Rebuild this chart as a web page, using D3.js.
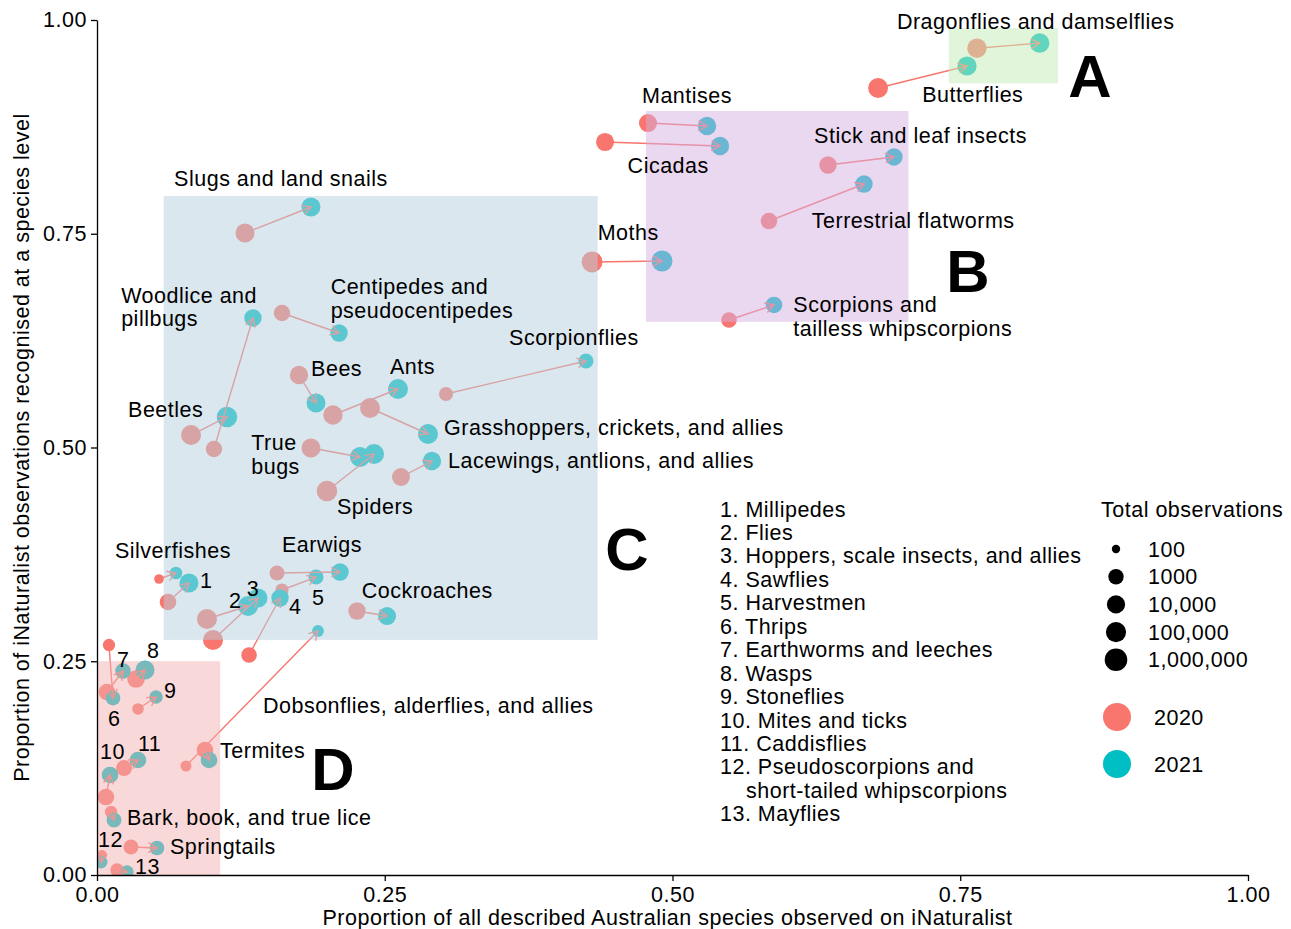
<!doctype html>
<html lang="en">
<head>
<meta charset="utf-8">
<title>iNaturalist coverage of Australian invertebrates</title>
<script src="https://d3js.org/d3.v7.min.js"></script>
<style>
  body { margin: 0; background: #fff; }
  svg text { font-family: "Liberation Sans", Arial, sans-serif; fill: #000; letter-spacing: 0.5px; }
  .axis path, .axis line { stroke: #000; stroke-width: 1.3px; }
</style>
</head>
<body>
<div id="chart"></div>
<script>
// groups, 2020 -> 2021 positions and total observations
var groups = ["Dragonflies and damselflies", "Butterflies", "Mantises", "Cicadas", "Stick and leaf insects",
  "Terrestrial flatworms", "Moths", "Scorpions and tailless whipscorpions", "Slugs and land snails",
  "Woodlice and pillbugs", "Beetles", "Centipedes and pseudocentipedes", "Bees", "Ants",
  "Grasshoppers, crickets, and allies", "Scorpionflies", "True bugs", "Spiders", "Lacewings, antlions, and allies",
  "Silverfishes", "Millipedes", "Flies", "Hoppers, scale insects, and allies", "Sawflies", "Harvestmen",
  "Earwigs", "Cockroaches", "Dobsonflies, alderflies, and allies", "Termites", "Thrips", "Earthworms and leeches",
  "Wasps", "Stoneflies", "Mites and ticks", "Caddisflies", "Bark, book, and true lice", "Springtails",
  "Pseudoscorpions and short-tailed whipscorpions", "Mayflies"];

var x2020 = [0.7645, 0.6786, 0.4787, 0.4414, 0.6351, 0.5838, 0.4301, 0.5491, 0.1286, 0.1016, 0.0817, 0.1607, 0.1755,
  0.2050, 0.2372, 0.3032, 0.1859, 0.1998, 0.2641, 0.0539, 0.0617, 0.0955, 0.1008, 0.1321, 0.1607, 0.1564, 0.2259,
  0.0773, 0.0938, 0.0104, 0.0087, 0.0339, 0.0356, 0.0078, 0.0235, 0.0122, 0.0295, 0.0043, 0.0174];
var y2020 = [0.967, 0.9205, 0.8795, 0.8573, 0.8304, 0.7649, 0.717, 0.6491, 0.7509, 0.4982, 0.5146, 0.6573, 0.5848,
  0.538, 0.5462, 0.5626, 0.4994, 0.4491, 0.4655, 0.3462, 0.3193, 0.2994, 0.2749, 0.2573, 0.3333, 0.3532, 0.3088,
  0.1275, 0.1462, 0.269, 0.214, 0.2292, 0.1942, 0.0912, 0.1251, 0.0737, 0.0327, 0.0234, 0.0058];
var x2021 = [0.819, 0.7559, 0.530, 0.5413, 0.6924, 0.6664, 0.4909, 0.5882, 0.1859, 0.1355, 0.1129, 0.2103, 0.1903,
  0.2615, 0.2876, 0.4248, 0.2285, 0.2407, 0.291, 0.0686, 0.0799, 0.1312, 0.1399, 0.159, 0.1903, 0.2111, 0.252,
  0.192, 0.0973, 0.0139, 0.0226, 0.0417, 0.0513, 0.0113, 0.0356, 0.0148, 0.0521, 0.0035, 0.026];
var y2021 = [0.973, 0.9462, 0.876, 0.8526, 0.8398, 0.8082, 0.7181, 0.6667, 0.7813, 0.6515, 0.5357, 0.6339, 0.552,
  0.5684, 0.5158, 0.6012, 0.4889, 0.4924, 0.4842, 0.3532, 0.3415, 0.3146, 0.324, 0.324, 0.3485, 0.3544, 0.3029,
  0.2854, 0.1345, 0.207, 0.2386, 0.2398, 0.2082, 0.117, 0.1345, 0.0643, 0.0316, 0.0152, 0.0035];
var n2020 = [40000, 70000, 9000, 9000, 5200, 2700, 200000, 1200, 25000, 2300, 80000, 2300, 12600, 40000, 80000, 630,
  25000, 140000, 8500, 150, 2700, 80000, 80000, 1200, 500, 880, 5200, 235, 2700, 370, 2700, 6000, 285, 2700, 1600,
  370, 880, 170, 520];
var n2021 = [45000, 30000, 12000, 12000, 5200, 5200, 215000, 2700, 25000, 5200, 140000, 5200, 25000, 80000, 80000, 880,
  80000, 80000, 12600, 400, 25000, 80000, 25000, 5200, 880, 6000, 8500, 300, 2700, 800, 1200, 25000, 520, 2700, 2700,
  880, 770, 450, 520];

// numbered groups in the list on the right
var numbered = ["Millipedes", "Flies", "Hoppers, scale insects, and allies", "Sawflies", "Harvestmen", "Thrips",
  "Earthworms and leeches", "Wasps", "Stoneflies", "Mites and ticks", "Caddisflies",
  "Pseudoscorpions and\nshort-tailed whipscorpions", "Mayflies"];

// text labels on the panel (data units)
var labelText = ["Dragonflies and damselflies", "Butterflies", "Mantises", "Cicadas", "Stick and leaf insects",
  "Terrestrial flatworms", "Moths", "Scorpions and\ntailless whipscorpions", "Slugs and land snails",
  "Woodlice and\npillbugs", "Centipedes and\npseudocentipedes", "Scorpionflies", "Bees", "Ants", "Beetles",
  "Grasshoppers, crickets, and allies", "True\nbugs", "Lacewings, antlions, and allies", "Spiders",
  "Silverfishes", "Earwigs", "1", "2", "3", "4", "5", "Cockroaches", "8", "7", "6", "9",
  "Dobsonflies, alderflies, and allies", "10", "11", "Termites", "Bark, book, and true lice", "12", "Springtails", "13"];
var labelX = [0.695, 0.717, 0.4735, 0.461, 0.623, 0.621, 0.435, 0.605, 0.067, 0.021, 0.203, 0.358, 0.186, 0.2546,
  0.027, 0.3015, 0.134, 0.305, 0.2085, 0.0156, 0.1607, 0.0895, 0.1147, 0.130, 0.1668, 0.1868, 0.230, 0.0434, 0.0174,
  0.0096, 0.0582, 0.1442, 0.0026, 0.0356, 0.1069, 0.0261, 0.0009, 0.0634, 0.033];
var labelY = [0.998, 0.913, 0.912, 0.830, 0.8655, 0.765, 0.751, 0.667, 0.815, 0.678, 0.688, 0.629, 0.593, 0.595,
  0.544, 0.524, 0.506, 0.485, 0.4316, 0.380, 0.386, 0.345, 0.3216, 0.3357, 0.3135, 0.325, 0.3333, 0.263, 0.2526,
  0.1836, 0.2164, 0.1988, 0.1439, 0.1544, 0.1462, 0.0678, 0.0421, 0.0339, 0.0105];

// highlighted regions A-D
var regionNames = ["A", "B", "C", "D"];
var regionX0 = [0.740, 0.477, 0.058, 0.0];
var regionX1 = [0.835, 0.705, 0.435, 0.107];
var regionY0 = [0.926, 0.647, 0.275, 0.0];
var regionY1 = [0.9906, 0.8936, 0.794, 0.25];
var regionLetterX = [0.8627, 0.7567, 0.4605, 0.205];
var regionLetterY = [0.9357, 0.7076, 0.3825, 0.1251];
var regionFill = ["#c3ebb7", "#d5afe1", "#b5cfdd", "#f1b1b1"];

var sizeBreaks = [100, 1000, 10000, 100000, 1000000];
var sizeLabels = ["100", "1000", "10,000", "100,000", "1,000,000"];
var years = ["2020", "2021"];
var yearColors = ["#F8766D", "#00BFC4"];

var width = 1291, height = 929;
var margin = {top: 20, right: 43, bottom: 54, left: 97};
var fontSize = "21.5px";

var svg = d3.select("#chart").append("svg")
  .attr("width", width)
  .attr("height", height);

var x = d3.scaleLinear().domain([0, 1]).range([margin.left, width - margin.right]);
var y = d3.scaleLinear().domain([0, 1]).range([height - margin.bottom, margin.top]);
var r = d3.scaleLinear().domain([2, 3, 4, 5, 6]).range([4.2, 7.7, 9.1, 10.1, 11.3]);
var rad = function(n) { return r(Math.log10(n)); };

svg.append("clipPath").attr("id", "panel")
  .append("rect")
    .attr("x", x(0)).attr("y", y(1))
    .attr("width", x(1) - x(0)).attr("height", y(0) - y(1));

var panel = svg.append("g").attr("clip-path", "url(#panel)");

// points
panel.append("g").selectAll("circle")
  .data(groups)
  .enter().append("circle")
    .attr("cx", function(d, i) { return x(x2020[i]); })
    .attr("cy", function(d, i) { return y(y2020[i]); })
    .attr("r", function(d, i) { return rad(n2020[i]); })
    .style("fill", yearColors[0]);

panel.append("g").selectAll("circle")
  .data(groups)
  .enter().append("circle")
    .attr("cx", function(d, i) { return x(x2021[i]); })
    .attr("cy", function(d, i) { return y(y2021[i]); })
    .attr("r", function(d, i) { return rad(n2021[i]); })
    .style("fill", yearColors[1]);

// arrows 2020 -> 2021
var arrows = panel.append("g")
  .style("stroke", "#F8766D")
  .style("stroke-width", 1.4)
  .style("fill", "none");

groups.forEach(function(g, i) {
  var x0 = x(x2020[i]), y0 = y(y2020[i]), x1 = x(x2021[i]), y1 = y(y2021[i]);
  var a = Math.atan2(y1 - y0, x1 - x0), len = 10, spread = Math.PI / 6;
  arrows.append("line").attr("x1", x0).attr("y1", y0).attr("x2", x1).attr("y2", y1);
  arrows.append("path")
    .attr("d", "M" + (x1 - len * Math.cos(a - spread)) + "," + (y1 - len * Math.sin(a - spread)) +
      "L" + x1 + "," + y1 +
      "L" + (x1 - len * Math.cos(a + spread)) + "," + (y1 - len * Math.sin(a + spread)));
});

// shaded regions on top
panel.append("g").selectAll("rect")
  .data(regionNames)
  .enter().append("rect")
    .attr("x", function(d, i) { return x(regionX0[i]); })
    .attr("y", function(d, i) { return y(regionY1[i]); })
    .attr("width", function(d, i) { return x(regionX1[i]) - x(regionX0[i]); })
    .attr("height", function(d, i) { return y(regionY0[i]) - y(regionY1[i]); })
    .style("fill", function(d, i) { return regionFill[i]; })
    .style("opacity", 0.5);

// axes
svg.append("g")
  .attr("class", "axis")
  .attr("transform", "translate(0," + y(0) + ")")
  .call(d3.axisBottom(x).tickValues([0, 0.25, 0.5, 0.75, 1]).tickFormat(d3.format(".2f")).tickSize(6).tickSizeOuter(0))
  .call(function(g) { g.selectAll("text").attr("dy", "0.82em"); });

svg.append("g")
  .attr("class", "axis")
  .attr("transform", "translate(" + x(0) + ",0)")
  .call(d3.axisLeft(y).tickValues([0, 0.25, 0.5, 0.75, 1]).tickFormat(d3.format(".2f")).tickSize(6).tickSizeOuter(0))
  .call(function(g) { g.selectAll("text").attr("dx", "-0.05em"); });

svg.selectAll(".axis text").style("font-size", fontSize).style("fill", "#000")
  .style("font-family", "'Liberation Sans', Arial, sans-serif");

svg.append("text")
  .attr("x", (x(0) + x(1)) / 2 - 5)
  .attr("y", 925)
  .attr("text-anchor", "middle")
  .style("font-size", fontSize)
  .text("Proportion of all described Australian species observed on iNaturalist");

svg.append("text")
  .attr("transform", "translate(29," + ((y(0) + y(1)) / 2) + ") rotate(-90)")
  .attr("text-anchor", "middle")
  .style("font-size", fontSize)
  .text("Proportion of iNaturalist observations recognised at a species level");

// labels
var labels = svg.append("g").style("font-size", fontSize);
labelText.forEach(function(t, i) {
  var lines = t.split("\n");
  var txt = labels.append("text")
    .attr("x", x(labelX[i]))
    .attr("y", y(labelY[i]));
  lines.forEach(function(l, j) {
    txt.append("tspan").attr("x", x(labelX[i])).attr("dy", j === 0 ? "0.35em" : "1.1em").text(l);
  });
});

svg.append("g").selectAll("text")
  .data(regionNames)
  .enter().append("text")
    .attr("x", function(d, i) { return x(regionLetterX[i]); })
    .attr("y", function(d, i) { return y(regionLetterY[i]); })
    .attr("dy", "0.36em")
    .attr("text-anchor", "middle")
    .style("font-size", "60px")
    .style("font-weight", "bold")
    .style("letter-spacing", "0")
    .text(function(d) { return d; });

// numbered list
var list = svg.append("g").style("font-size", fontSize);
var lineH = 23.45, row = 0;
numbered.forEach(function(t, i) {
  var lines = t.split("\n");
  lines.forEach(function(l, j) {
    list.append("text")
      .attr("x", j === 0 ? 720 : 746)
      .attr("y", 509 + row * lineH)
      .attr("dy", "0.35em")
      .text(j === 0 ? (i + 1) + ". " + l : l);
    row++;
  });
});

// size legend
var leg = svg.append("g").style("font-size", fontSize);
leg.append("text").attr("x", 1101).attr("y", 509).attr("dy", "0.35em").text("Total observations");
sizeBreaks.forEach(function(b, i) {
  leg.append("circle").attr("cx", 1116).attr("cy", 549 + i * 27.7).attr("r", rad(b)).style("fill", "#000");
  leg.append("text").attr("x", 1148).attr("y", 549 + i * 27.7).attr("dy", "0.35em").text(sizeLabels[i]);
});
years.forEach(function(yr, i) {
  leg.append("circle").attr("cx", 1117).attr("cy", 717 + i * 47).attr("r", 14).style("fill", yearColors[i]);
  leg.append("text").attr("x", 1154).attr("y", 717 + i * 47).attr("dy", "0.35em").text(yr);
});
</script>
</body>
</html>
